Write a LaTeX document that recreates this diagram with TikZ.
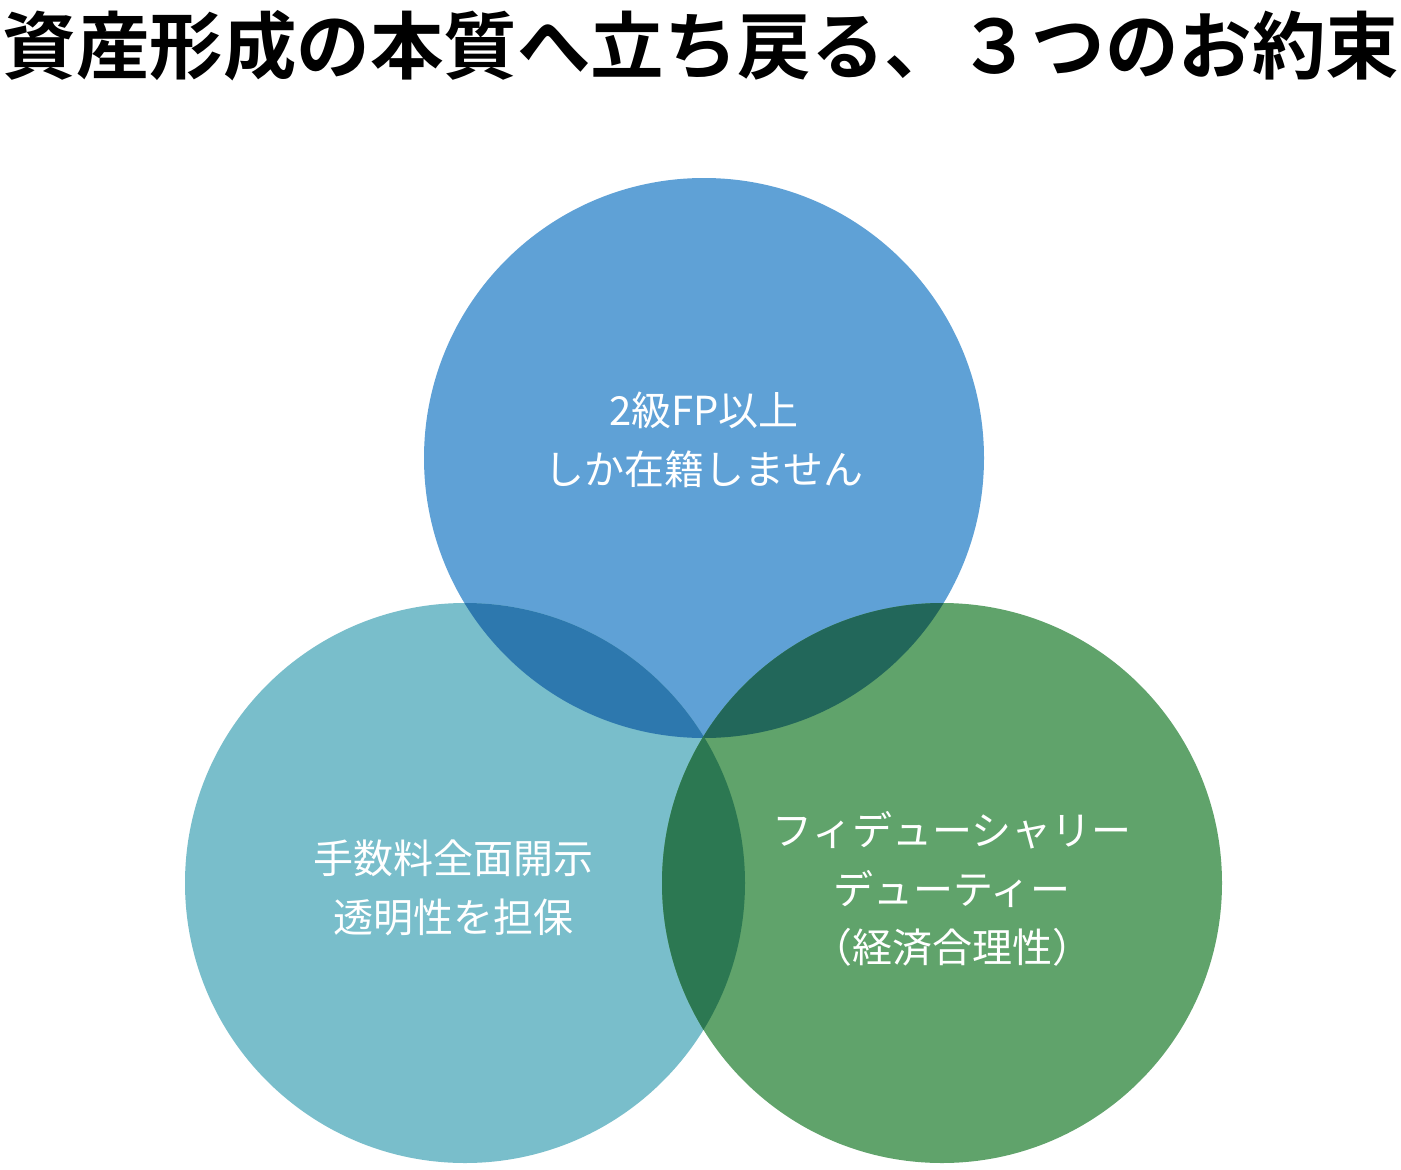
\documentclass[tikz,border=0pt]{standalone}
\usepackage{fontspec}
\newfontfamily\jp{Noto Sans CJK JP}
\newfontfamily\jpb{Noto Sans CJK JP Bold}
\definecolor{ctop}{HTML}{5FA1D6}
\definecolor{cleft}{HTML}{79BECB}
\definecolor{cright}{HTML}{60A36B}
\definecolor{ctl}{HTML}{2D78AE}
\definecolor{ctr}{HTML}{22675A}
\definecolor{clr}{HTML}{2C7852}
\tikzset{
  circ/.style={circle, minimum size=560pt, inner sep=0pt, draw=none},
  lab/.style={text=white, font=\jp\fontsize{40}{58.5}\selectfont, align=center},
  ttl/.style={font=\jpb\fontsize{73.5}{80}\selectfont, inner sep=0pt}
}
\begin{document}
\begin{tikzpicture}[x=1pt,y=-1pt]
\useasboundingbox (0,0) rectangle (1401,1170);
\fill[white] (0,0) rectangle (1401,1170);
\node[ttl] (title) at (701,46) {資産形成の本質へ立ち戻る、３つのお約束};
\node[circ, fill=ctop] (top) at (704,458) {};
\node[circ, fill=cleft] (left) at (465,883) {};
\node[circ, fill=cright] (right) at (942,883) {};
\begin{scope}
  \clip (704,458) circle (280);
  \fill[ctl] (465,883) circle (280);
\end{scope}
\begin{scope}
  \clip (704,458) circle (280);
  \fill[ctr] (942,883) circle (280);
\end{scope}
\begin{scope}
  \clip (465,883) circle (280);
  \fill[clr] (942,883) circle (280);
\end{scope}
\node[lab] (ttext) at (704,440) {2級FP以上\\しか在籍しません};
\node[lab] (ltext) at (453,888) {手数料全面開示\\透明性を担保};
\node[lab] (rtext) at (952,889) {フィデューシャリー\\デューティー\\（経済合理性）};
\end{tikzpicture}
\end{document}
